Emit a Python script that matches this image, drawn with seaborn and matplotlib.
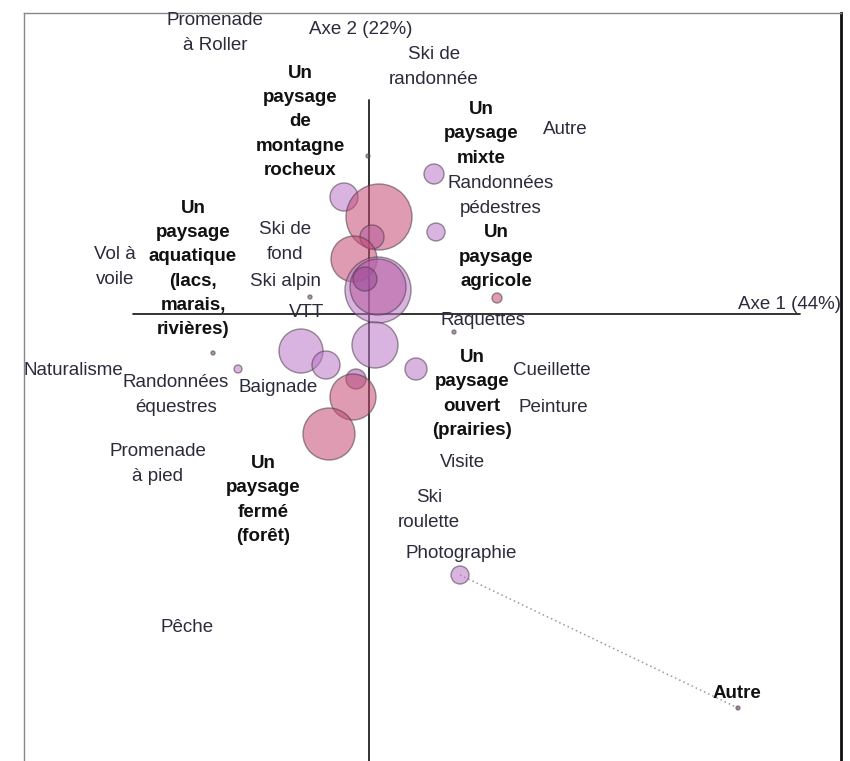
import matplotlib
matplotlib.use("Agg")
import matplotlib.pyplot as plt
import seaborn as sns
import pandas as pd

# ---- label points (factor coordinates) ----
label_text = ["Promenade\nà Roller", "Ski de\nrandonnée", "Autre", "Randonnées\npédestres",
              "Ski de\nfond", "Ski alpin", "VTT", "Vol à\nvoile", "Raquettes", "Naturalisme",
              "Randonnées\néquestres", "Baignade", "Cueillette", "Peinture", "Visite",
              "Promenade\nà pied", "Ski\nroulette", "Photographie", "Pêche"]
label_x = [-1.54, 0.65, 1.96, 1.32, -0.84, -0.83, -0.62, -2.54, 1.14, -2.96,
           -1.93, -0.91, 1.83, 1.84, 0.93, -2.11, 0.60, 0.92, -1.82]
label_y = [2.81, 2.47, 1.85, 1.18, 0.72, 0.33, 0.02, 0.47, -0.06, -0.56,
           -0.81, -0.73, -0.56, -0.93, -1.48, -1.50, -1.96, -2.40, -3.13]

bold_text = ["Un\npaysage\nde\nmontagne\nrocheux", "Un\npaysage\nmixte", "Un\npaysage\nagricole",
             "Un\npaysage\naquatique\n(lacs,\nmarais,\nrivières)", "Un\npaysage\nouvert\n(prairies)",
             "Un\npaysage\nfermé\n(forêt)", "Autre"]
bold_x = [-0.69, 1.12, 1.27, -1.76, 1.03, -1.06, 3.68]
bold_y = [1.92, 1.80, 0.57, 0.45, -0.80, -1.86, -3.80]

# ---- bubbles ----
bub_x = [-0.25, 0.10, 0.03, -0.15, 0.09, 0.09, -0.04, 0.06, -0.68, -0.43, 0.47, -0.13,
         -0.16, -0.40, 0.65, 0.67, 1.28, -1.31, 0.91,
         -0.01, -0.59, -1.56, 0.85, 3.69]
bub_y = [1.17, 0.97, 0.77, 0.55, 0.24, 0.27, 0.35, -0.31, -0.37, -0.51, -0.55, -0.65,
         -0.83, -1.20, 1.40, 0.82, 0.16, -0.55, -2.61,
         1.58, 0.17, -0.39, -0.18, -3.94]
bub_eff = [196, 1089, 144, 529, 1089, 784, 144, 529, 484, 196, 121, 100,
           529, 676, 100, 81, 25, 16, 81,
           4, 4, 4, 4, 4]
bub_grp = ["lav", "pink", "mag", "pink", "lav", "mag", "dark", "lav", "lav", "lav", "lav", "mid",
           "pink", "pink", "lav", "lav", "pink", "lav", "lav",
           "dot", "dot", "dot", "dot", "dot"]

axis1_label = "Axe 1 (44%)"
axis2_label = "Axe 2 (22%)"

sns.set_theme(style="white")
plt.rcParams["font.family"] = ["Liberation Sans", "DejaVu Sans"]

fig = plt.figure(figsize=(8.5, 7.61), dpi=100)
ax = fig.add_axes([24 / 850, 0, (841 - 24) / 850, (761 - 13) / 761])
ax.set_xlim(-3.45, 4.72)
ax.set_ylim(-4.47, 3.01)

# axes cross
ax.plot([-2.36, 4.31], [0, 0], color="#222222", lw=1.3, zorder=1)
ax.plot([0, 0], [2.14, -4.47], color="#222222", lw=1.3, zorder=1)

# dotted link Photographie -> Autre
ax.plot([bub_x[18], bub_x[23]], [bub_y[18], bub_y[23]], color="#999999", lw=1.1,
        ls=(0, (1, 2)), zorder=2)

df = pd.DataFrame({"x": bub_x, "y": bub_y, "eff": bub_eff, "grp": bub_grp})
palette = {"pink": "#c44a72", "lav": "#bb77c7", "mag": "#b85c9e", "dark": "#9a4a9a",
           "mid": "#a455a6", "dot": "#6a4a6a"}
k = (1.44) ** 2
sns.scatterplot(data=df, x="x", y="y", size="eff", hue="grp", palette=palette,
                sizes=(0, 1100 * k), size_norm=(0, 1100), alpha=0.55,
                edgecolor="#4a3a4a", linewidth=1.0, legend=False, ax=ax, zorder=3)

fs = 13.5
ls = 1.55
for t, x, y in zip(label_text, label_x, label_y):
    ax.text(x, y, t, ha="center", va="center", fontsize=fs, color="#2b2b3b",
            linespacing=ls, zorder=4)
for t, x, y in zip(bold_text, bold_x, bold_y):
    ax.text(x, y, t, ha="center", va="center", fontsize=fs, color="#111111",
            fontweight="bold", linespacing=ls, zorder=4)

ax.text(-0.08, 2.85, axis2_label, ha="center", va="center", fontsize=fs, color="#2b2b3b")
ax.text(4.21, 0.10, axis1_label, ha="center", va="center", fontsize=fs, color="#2b2b3b")

ax.set_xlabel("")
ax.set_ylabel("")
ax.set_xticks([])
ax.set_yticks([])
for s in ["left", "top"]:
    ax.spines[s].set_color("#888888")
    ax.spines[s].set_linewidth(1.0)
ax.spines["right"].set_color("#111111")
ax.spines["right"].set_linewidth(2.0)
ax.spines["bottom"].set_visible(False)

fig.savefig("out.png", dpi=100)
